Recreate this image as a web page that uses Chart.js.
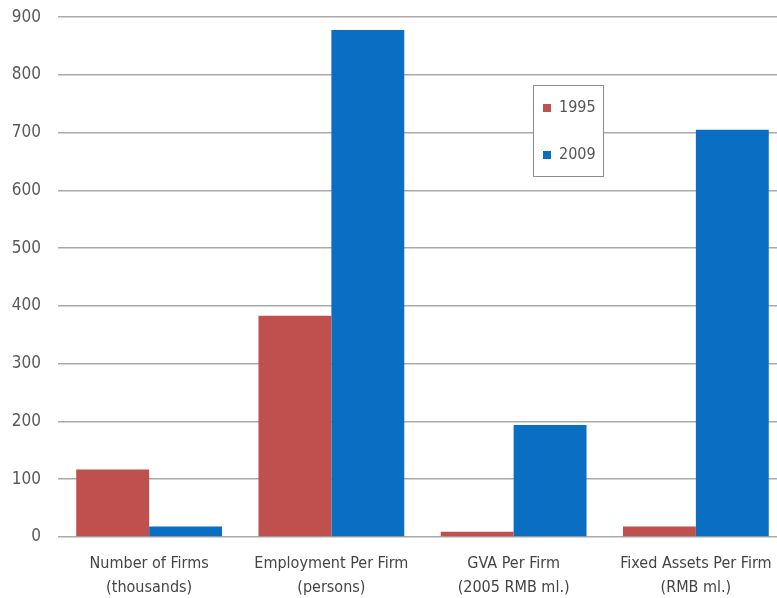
<!DOCTYPE html>
<html>
<head>
<meta charset="utf-8">
<script src="https://cdn.jsdelivr.net/npm/chart.js@4/dist/chart.umd.min.js"></script>
<style>
  html, body { margin: 0; padding: 0; background: #fff; overflow: hidden; }
  #wrap { position: relative; width: 787px; height: 598px; }
</style>
</head>
<body>
<div id="wrap"><canvas id="firmChart"></canvas></div>
<script>
// Firm statistics, 1995 vs 2009
const categories = [
    ['Number of Firms', '(thousands)'],
    ['Employment Per Firm', '(persons)'],
    ['GVA Per Firm', '(2005 RMB ml.)'],
    ['Fixed Assets Per Firm', '(RMB ml.)']
];
const values1995 = [117, 383, 9, 18];
const values2009 = [18, 878, 194, 705];
const seriesLabels = ['1995', '2009'];

const FONT = "'DejaVu Sans Condensed', 'Liberation Sans', sans-serif";

// Boxed legend drawn inside the plot area
const boxLegend = {
    id: 'boxLegend',
    afterDraw(chart, args, opts) {
        const ctx = chart.ctx;
        ctx.save();
        ctx.fillStyle = '#fff';
        ctx.fillRect(opts.x, opts.y, opts.w, opts.h);
        ctx.strokeStyle = '#8c8c8c';
        ctx.lineWidth = 1;
        ctx.strokeRect(opts.x + 0.5, opts.y + 0.5, opts.w, opts.h);
        ctx.font = `16px ${FONT}`;
        ctx.textBaseline = 'middle';
        chart.data.datasets.forEach((ds, i) => {
            const cy = opts.y + opts.first + i * opts.gap;
            ctx.fillStyle = ds.backgroundColor;
            ctx.fillRect(opts.x + 10, cy - 4, 8, 8);
            ctx.fillStyle = '#555';
            ctx.fillText(ds.label, opts.x + 26, cy);
        });
        ctx.restore();
    }
};

new Chart(document.getElementById('firmChart'), {
    type: 'bar',
    data: {
        labels: categories,
        datasets: [
            { label: seriesLabels[0], data: values1995, backgroundColor: '#c0504d' },
            { label: seriesLabels[1], data: values2009, backgroundColor: '#0a6fc2' }
        ]
    },
    options: {
        responsive: true,
        maintainAspectRatio: false,
        animation: false,
        layout: { padding: 0 },
        datasets: {
            bar: { categoryPercentage: 0.8, barPercentage: 1.0 }
        },
        plugins: {
            legend: { display: false },
            tooltip: { enabled: false },
            boxLegend: { x: 533, y: 85, w: 70, h: 91, first: 23, gap: 47 }
        },
        scales: {
            x: {
                grid: { display: false },
                border: { display: false },
                ticks: {
                    color: '#444',
                    font: { family: FONT, size: 16, lineHeight: 1.5 },
                    padding: 7,
                    maxRotation: 0
                },
                afterFit(scale) { scale.height = 61; }
            },
            y: {
                min: 0,
                max: 900,
                grid: {
                    color: '#aaaaaa',
                    lineWidth: 1.5,
                    drawTicks: true,
                    tickLength: 10,
                    tickColor: 'rgba(0,0,0,0)'
                },
                border: { display: false },
                ticks: {
                    stepSize: 100,
                    color: '#595959',
                    font: { family: FONT, size: 17 },
                    padding: 7
                },
                afterFit(scale) { scale.width = 58; }
            }
        }
    },
    plugins: [boxLegend]
});
</script>
</body>
</html>
